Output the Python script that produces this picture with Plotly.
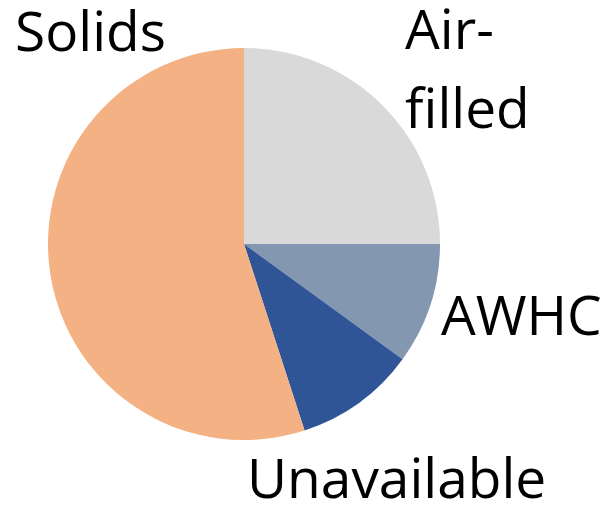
import plotly.graph_objects as go

# Soil volume composition (percent of total volume)
categories = ["Air-filled", "AWHC", "Unavailable", "Solids"]
values = [25, 10, 10, 55]
colors = ["#D9D9D9", "#8497B0", "#2F5597", "#F4B183"]

W, H = 611, 507
FONT = "Open Sans"
FS = 55

fig = go.Figure(
    go.Pie(
        labels=categories,
        values=values,
        sort=False,
        direction="clockwise",
        rotation=0,
        marker=dict(colors=colors, line=dict(width=0)),
        textinfo="none",
        hoverinfo="label+percent",
        showlegend=False,
        domain=dict(x=[48 / W, 440 / W], y=[1 - 440 / H, 1 - 48 / H]),
    )
)

# Category labels placed around the pie (one entry per text line)
label_lines = [
    (13, 29.5, "Solids"),
    (403, 28, "Air-"),
    (403, 106.5, "filled"),
    (439, 313, "AWHC"),
    (245, 476, "Unavailable"),
]
for px, py, txt in label_lines:
    fig.add_annotation(
        x=px / W, y=1 - py / H, xref="paper", yref="paper",
        text=txt, showarrow=False, xanchor="left", yanchor="middle",
        align="left", font=dict(family=FONT, size=FS, color="#000000"),
    )

fig.update_layout(
    width=W, height=H,
    margin=dict(l=0, r=0, t=0, b=0),
    paper_bgcolor="#FFFFFF",
    plot_bgcolor="#FFFFFF",
)

fig.write_html("out.html")
